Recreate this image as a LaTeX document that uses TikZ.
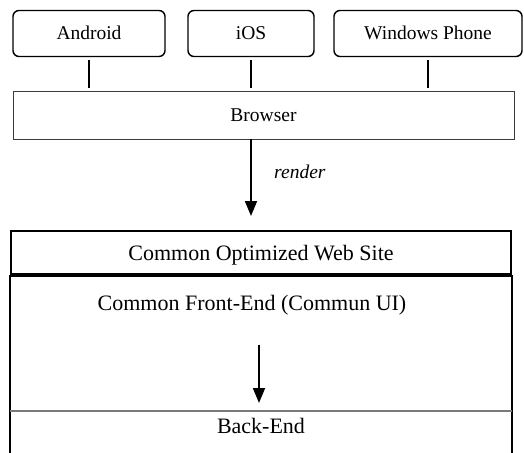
\documentclass[tikz,border=0pt]{standalone}
\usepackage{fontspec}
\setmainfont{Liberation Serif}
\usetikzlibrary{positioning,arrows.meta}
\definecolor{framegray}{HTML}{3C3C3C}
\definecolor{splitgray}{HTML}{7A7A7A}

\begin{document}
\begin{tikzpicture}[x=1pt,y=1pt,
    device/.style={draw, rounded corners=6pt, line width=1.4pt,
                   minimum height=46pt, inner sep=0pt,
                   text height=13pt, text depth=0pt,
                   font=\fontsize{19.5}{22}\selectfont},
    browserbox/.style={draw=framegray, line width=0.9pt,
                       minimum width=501pt, minimum height=48pt,
                       text height=13pt, text depth=0pt,
                       font=\fontsize{19.5}{22}\selectfont},
    layerbox/.style={draw, line width=2pt, minimum width=500pt,
                     minimum height=43pt, inner sep=0pt,
                     text height=15pt, text depth=0pt,
                     font=\fontsize{22}{26}\selectfont},
    layertext/.style={font=\fontsize{22}{26}\selectfont},
    link/.style={line width=1.2pt, shorten <=3pt, shorten >=3pt},
    flow/.style={line width=1.8pt, -{Triangle[width=12pt,length=15pt]}}]
  \useasboundingbox (0,0) rectangle (524,-452);
  \clip (0,0) rectangle (524,-452);

  % devices on top
  \node[device, minimum width=152pt] (android) at (89,-33.5) {Android};
  \node[device, minimum width=126pt] (ios) at (251,-33.5) {iOS};
  \node[device, minimum width=188pt] (winphone) at (428,-33.5) {Windows Phone};

  \node[browserbox] (browser) at (263.5,-115) {Browser};

  \foreach \dev in {android,ios,winphone}
    \draw[link] (\dev.south) -- (\dev.south |- browser.north);

  % the common site, open at the bottom
  \node[layerbox] (site) at (261,-252.5) {Common Optimized Web Site};
  \node[layertext] (front) at (252,-305) {Common Front-End (Commun UI)};
  \node[layertext] (back) at (261,-426) {Back-End};
  \coordinate (bline) at (261,-411);

  \draw[line width=2pt] (site.south west) -- ++(0,-200);
  \draw[line width=2pt] (site.south east) -- ++(0,-200);
  \draw[line width=3pt] (site.south west) -- (site.south east);
  \draw[splitgray, line width=1.4pt] (site.west |- bline) -- (site.east |- bline);

  \draw[flow, shorten >=14pt] (browser.south -| ios.south) -- (site.north -| ios.south)
    node[pos=0.36, right=19pt, font=\fontsize{19.5}{22}\selectfont\itshape] {render};
  \draw[flow, shorten <=26pt, shorten >=8pt] ([xshift=-2pt]front.south -| bline) -- ([xshift=-2pt]bline);
\end{tikzpicture}
\end{document}
